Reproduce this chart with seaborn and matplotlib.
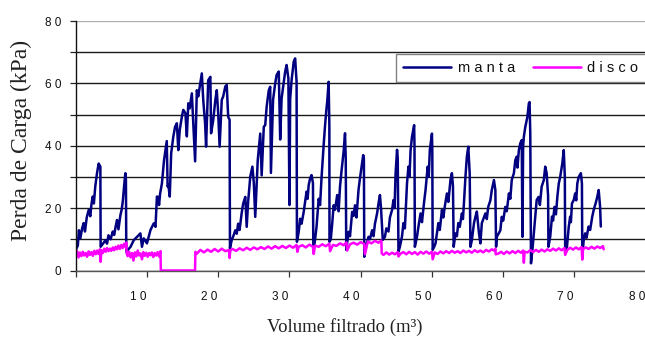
import matplotlib
matplotlib.use("Agg")
import matplotlib.pyplot as plt
import matplotlib.transforms as mtransforms
import numpy as np
import pandas as pd
import seaborn as sns

# ---------------- data ----------------
manta_x = [
    0.0, 0.3, 0.45, 0.65, 0.9, 1.12, 1.3, 1.55, 1.82, 2.05, 2.2, 2.38, 2.55, 2.75, 2.99, 3.22, 3.46, 3.5,
    3.8, 4.16, 4.4, 4.6, 4.9, 5.2, 5.4, 5.6, 5.8, 6.0, 6.27, 6.45, 6.6, 6.74, 6.85, 6.97, 7.05, 7.1,
    7.4, 7.7, 8.14, 8.6, 9.08, 9.3, 9.55, 9.8, 10.0, 10.5, 10.95, 11.2, 11.4, 11.56, 11.7, 11.85, 12.1, 12.4,
    12.6, 12.78, 12.9, 13.0, 13.2, 13.4, 13.7, 13.95, 14.2, 14.4, 14.6, 14.9, 15.1, 15.4, 15.6, 15.8, 16.0,
    16.3, 16.76, 17.0, 17.2, 17.7, 17.9, 18.16, 18.3, 18.6, 18.9, 19.0, 19.3, 19.6, 19.8, 20.0, 20.2, 20.5,
    20.7, 21.0, 21.2, 21.4, 21.6, 21.65,
    21.9, 22.2, 22.4, 22.6, 22.8, 23.0, 23.3, 23.5, 23.8, 24.0, 24.2, 24.5, 24.8, 25.0, 25.2, 25.55, 25.9,
    26.1, 26.4, 26.6, 26.8, 27.1, 27.3, 27.4, 27.7, 28.0, 28.2, 28.5, 28.7, 28.9, 29.2, 29.4, 29.6, 29.85,
    30.0, 30.1, 30.3, 30.6, 30.8, 31.0, 31.05,
    31.3, 31.5, 31.7, 32.0, 32.2, 32.4, 32.55, 32.7, 32.9, 33.1, 33.3, 33.35,
    33.6, 33.8, 34.1, 34.3, 34.5, 34.8, 35.0, 35.2, 35.3, 35.5, 35.6, 35.62,
    35.8, 36.0, 36.2, 36.4, 36.7, 36.9, 37.1, 37.3, 37.6, 37.8, 37.9, 37.97,
    38.3, 38.5, 38.8, 39.0, 39.2, 39.4, 39.7, 39.9, 40.2, 40.35, 40.45, 40.5,
    40.6, 40.9, 41.1, 41.3, 41.6, 41.8, 42.0, 42.3, 42.5, 42.7, 42.85, 43.1,
    43.4, 43.6, 43.9, 44.1, 44.4, 44.6, 44.75, 44.9, 45.1, 45.2, 45.3,
    45.5, 45.8, 46.0, 46.2, 46.5, 46.7, 46.85, 47.0, 47.2, 47.5, 47.55, 47.6,
    47.9, 48.1, 48.4, 48.6, 48.9, 49.1, 49.4, 49.55, 49.7, 49.9, 50.0, 50.05, 50.1,
    50.3, 50.5, 50.9, 51.1, 51.4, 51.6, 51.8, 52.1, 52.3, 52.6, 52.8, 52.95, 53.05,
    53.3, 53.5, 53.7, 53.9, 54.2, 54.35, 54.5, 54.7, 54.9, 55.1, 55.3, 55.4,
    55.6, 55.9, 56.1, 56.3, 56.6, 56.8, 57.0, 57.3, 57.5, 57.7, 57.9, 58.2, 58.4, 58.7, 58.9, 59.0,
    59.1, 59.4, 59.6, 59.8, 60.0, 60.3, 60.5, 60.8, 61.0, 61.2, 61.5, 61.7, 61.9, 62.0, 62.2, 62.4, 62.6,
    62.7, 62.8, 62.9, 63.1, 63.4, 63.6, 63.7, 63.8, 63.9,
    64.1, 64.3, 64.5, 64.7, 64.97, 65.15, 65.4, 65.7, 65.9, 66.1, 66.3, 66.35,
    66.6, 66.85, 67.0, 67.2, 67.4, 67.6, 67.8, 68.0, 68.3, 68.5, 68.65, 68.7,
    68.95, 69.2, 69.4, 69.5, 69.65, 69.9, 70.1, 70.25, 70.4, 70.6, 70.9, 71.05, 71.1,
    71.3, 71.5, 71.7, 71.98, 72.2, 72.5, 72.7, 72.97, 73.2, 73.4, 73.6, 73.7,
]
manta_y = [
    6.5, 8.0, 12.9, 10.3, 13.5, 15.2, 12.5, 17.0, 19.4, 17.4, 21.0, 23.7, 21.5, 27.0, 31.2, 34.3, 33.3, 7.6,
    8.5, 9.7, 8.6, 11.3, 10.0, 12.5, 11.4, 14.0, 16.2, 13.2, 17.7, 19.5, 22.0, 25.8, 28.5, 31.2, 29.0, 6.0,
    6.8, 7.6, 9.7, 10.8, 11.9, 7.6, 10.3, 9.5, 8.7, 13.0, 15.1, 14.0, 23.7, 23.6, 21.0, 24.7, 27.9, 35.4,
    38.6, 41.5, 26.9, 27.5, 23.7, 37.6, 42.9, 46.1, 47.2, 38.6, 45.0, 49.3, 51.5, 50.4, 43.0, 53.6, 52.0,
    56.8, 35.0, 57.8, 55.8, 63.2, 54.7, 47.2, 39.7, 61.0, 62.1, 44.0, 48.2, 54.7, 57.8, 50.4, 39.7, 54.7,
    55.8, 59.0, 59.5, 49.3, 48.3, 7.1,
    9.8, 11.5, 12.9, 11.8, 15.0, 13.0, 18.5, 21.4, 23.6, 14.0, 22.0, 30.1, 33.3, 28.0, 17.2, 35.4, 43.9,
    30.5, 46.1, 46.6, 52.5, 57.8, 58.9, 31.3, 54.7, 60.0, 62.7, 63.8, 42.0, 55.2, 60.5, 63.8, 65.9, 61.6,
    21.0, 55.0, 61.0, 67.0, 68.0, 60.5, 9.2,
    12.4, 16.6, 15.0, 18.8, 22.0, 25.3, 23.0, 27.4, 29.5, 30.6, 28.0, 6.0,
    10.0, 14.0, 23.0, 21.0, 29.6, 40.2, 46.6, 52.0, 54.1, 60.5, 46.6, 9.2,
    10.0, 15.0, 20.9, 19.5, 24.2, 19.0, 27.0, 31.7, 38.1, 44.0, 36.0, 6.6,
    12.4, 11.0, 18.8, 17.5, 20.9, 17.0, 26.0, 29.6, 34.5, 37.0, 36.0, 4.4,
    6.5, 9.0, 10.8, 10.0, 12.9, 11.0, 15.0, 18.3, 21.5, 24.2, 20.0, 9.8,
    10.8, 13.5, 12.5, 17.0, 19.4, 22.6, 20.0, 31.2, 38.7, 36.0, 6.0,
    7.6, 11.0, 15.2, 13.5, 28.0, 33.3, 30.0, 38.6, 42.9, 46.6, 40.0, 7.6,
    10.8, 14.0, 18.3, 15.5, 22.0, 25.8, 33.3, 30.0, 38.6, 42.0, 43.9, 38.0, 6.6,
    7.5, 8.7, 15.2, 13.0, 19.4, 17.0, 20.5, 24.7, 22.0, 29.0, 31.2, 27.0, 7.6,
    11.9, 11.0, 15.2, 14.0, 18.3, 16.5, 22.0, 30.0, 36.5, 39.7, 31.0, 7.6,
    9.7, 15.2, 17.2, 18.9, 11.9, 8.7, 15.2, 17.0, 18.3, 16.5, 20.4, 22.5, 25.8, 29.0, 25.8, 7.6,
    10.8, 12.0, 12.9, 17.2, 16.0, 20.4, 19.0, 24.7, 23.0, 29.0, 31.2, 35.4, 36.5, 33.0, 38.6, 40.8, 41.8,
    10.8, 40.0, 42.9, 46.0, 49.3, 53.6, 54.0, 44.0, 2.3,
    6.6, 12.0, 17.2, 22.6, 23.6, 21.0, 26.9, 29.0, 33.3, 31.2, 24.0, 7.6,
    10.9, 17.3, 16.0, 20.4, 18.0, 23.6, 27.9, 30.0, 34.4, 38.6, 30.0, 5.5,
    7.6, 14.0, 17.3, 15.5, 21.5, 22.6, 24.7, 22.5, 27.9, 30.0, 31.2, 27.9, 4.4,
    9.8, 11.9, 10.5, 14.1, 13.0, 17.3, 19.4, 21.5, 23.6, 25.8, 20.4, 14.1,
]

disco_x = [
    0.0, 0.2, 0.4, 0.6, 0.8, 1.0, 1.2, 1.4, 1.6, 1.8, 2.0, 2.2, 2.4, 2.6, 2.8, 3.0, 3.2, 3.4, 3.5, 3.6,
    3.8, 4.0, 4.2, 4.4, 4.6, 4.8, 5.0, 5.2, 5.4, 5.6, 5.8, 6.0, 6.2, 6.4, 6.6, 6.8, 7.0, 7.1, 7.15,
    7.3, 7.5, 7.7, 7.9, 8.1, 8.3, 8.5, 8.7, 8.9, 9.1, 9.3, 9.5, 9.7, 9.9, 10.1, 10.3, 10.5, 10.7, 10.9,
    11.1, 11.3, 11.5, 11.7, 11.9, 11.95, 16.75, 16.8,
    17.0, 17.5, 18.0, 18.5, 19.0, 19.5, 20.0, 20.5, 21.0, 21.5, 21.6, 21.7, 22.0, 22.5, 23.0, 23.5, 24.0,
    24.5, 25.0, 25.5, 26.0, 26.5, 27.0, 27.5, 28.0, 28.5, 29.0, 29.5, 30.0, 30.5, 31.0, 31.1, 31.3, 31.8,
    32.3, 32.8, 33.3, 33.4, 33.6, 34.1, 34.6, 35.1, 35.6, 35.7, 36.1, 36.6, 37.1, 37.6, 38.0, 38.1, 38.5,
    39.0, 39.5, 40.0, 40.5, 40.6, 41.0, 41.5, 42.0, 42.5, 42.9, 42.95,
    43.2, 43.6, 44.0, 44.4, 44.8, 45.2, 45.3, 45.6, 46.0, 46.4, 46.8, 47.2, 47.6, 48.0, 48.4, 48.8, 49.2,
    49.6, 50.0, 50.1, 50.4, 50.8, 51.2, 51.6, 52.0, 52.4, 52.8, 53.2, 53.6, 54.0, 54.4, 54.8, 55.2, 55.6,
    56.0, 56.4, 56.8, 57.2, 57.6, 58.0, 58.4, 58.8, 58.9, 58.95,
    59.3, 59.7, 60.1, 60.5, 60.9, 61.3, 61.7, 62.1, 62.5, 62.8, 62.9, 63.0, 63.4, 63.8, 64.2, 64.6, 65.0,
    65.4, 65.8, 66.2, 66.6, 67.0, 67.4, 67.8, 68.2, 68.6, 68.7, 69.0, 69.4, 69.8, 70.2, 70.6, 71.0, 71.1,
    71.2, 71.6, 72.0, 72.4, 72.8, 73.2, 73.6, 74.0, 74.1,
]
disco_y = [
    5.0, 6.2, 4.2, 5.8, 4.6, 6.0, 4.8, 5.6, 4.4, 6.1, 5.0, 5.9, 4.7, 6.3, 5.2, 6.4, 5.3, 6.8, 2.8, 6.5,
    5.6, 7.0, 6.0, 7.2, 6.2, 7.0, 6.3, 7.4, 6.5, 7.6, 6.8, 8.0, 6.9, 8.2, 7.2, 8.6, 7.5, 9.0, 5.5,
    4.6, 6.0, 4.2, 5.6, 3.2, 5.8, 4.5, 6.4, 4.8, 5.5, 3.6, 5.9, 4.7, 5.7, 4.4, 5.6, 4.9, 5.8, 4.3,
    5.6, 4.8, 5.9, 4.5, 6.2, 0.0, 0.0, 6.0,
    5.4, 6.6, 5.8, 6.7, 6.0, 6.9, 6.1, 7.0, 6.2, 6.6, 4.0, 6.4, 6.9, 6.3, 7.1, 6.5, 7.3,
    6.6, 7.4, 6.8, 7.5, 6.9, 7.7, 7.0, 7.8, 7.1, 7.9, 7.2, 8.0, 7.3, 8.2, 6.0, 7.6, 8.1,
    7.4, 8.3, 7.6, 5.3, 8.0, 7.6, 8.4, 7.8, 8.6, 6.2, 8.2, 7.9, 8.7, 8.1, 9.0, 6.4, 8.4,
    8.9, 8.3, 9.1, 8.5, 5.2, 9.3, 8.7, 9.5, 8.9, 9.6, 5.5,
    5.0, 5.8, 5.1, 5.7, 5.2, 5.9, 4.5, 5.4, 5.9, 5.2, 6.0, 5.3, 5.9, 5.1, 6.0, 5.4, 6.1,
    5.4, 6.0, 3.6, 5.8, 5.3, 6.1, 5.5, 6.2, 5.6, 6.3, 5.7, 6.2, 5.6, 6.4, 5.8, 6.3, 5.7,
    6.5, 5.9, 6.4, 5.8, 6.6, 6.1, 6.8, 6.3, 7.0, 5.2,
    5.4, 6.0, 5.3, 6.1, 5.5, 6.2, 5.6, 6.3, 5.7, 6.4, 2.5, 6.0, 5.8, 6.5, 5.9, 6.6, 6.0,
    6.7, 6.1, 6.8, 6.3, 7.0, 6.4, 7.1, 6.5, 7.2, 5.0, 6.6, 7.3, 6.7, 7.4, 6.8, 7.5, 3.5,
    6.9, 7.4, 6.9, 7.6, 7.0, 7.7, 7.2, 7.8, 6.8,
]

series_names = ["manta", "disco"]
legend_labels = ["m a n t a", "d i s c o"]
x_ticks = [0, 10, 20, 30, 40, 50, 60, 70, 80]
x_tick_labels = ["", "1 0", "2 0", "3 0", "4 0", "5 0", "6 0", "7 0", "8 0"]
y_ticks = [0, 10, 20, 30, 40, 50, 60, 70, 80]
y_tick_labels = ["0", "", "2 0", "", "4 0", "", "6 0", "", "8 0"]
x_label = "Volume filtrado (m³)"
y_label = "Perda de Carga (kPa)"

df = pd.concat([
    pd.DataFrame({"vol": manta_x, "perda": manta_y, "serie": series_names[0]}),
    pd.DataFrame({"vol": disco_x, "perda": disco_y, "serie": series_names[1]}),
], ignore_index=True)

# ---------------- style ----------------
sns.set_style("white")
plt.rcParams["font.family"] = ["Liberation Sans", "DejaVu Sans"]

W, H = 645, 337
fig = plt.figure(figsize=(W / 100, H / 100), dpi=100)
ax_left, ax_right, ax_top, ax_bot = 75.7, 645.7, 21.0, 270.5
ax = fig.add_axes([ax_left / W, 1 - ax_bot / H, (ax_right - ax_left) / W, (ax_bot - ax_top) / H])

palette = {"manta": "#000080", "disco": "#FF00FF"}
sns.lineplot(data=df, x="vol", y="perda", hue="serie", palette=palette,
             sort=False, estimator=None, legend=False, linewidth=1.8, ax=ax)
ax.set_xlim(0, 80)
ax.set_ylim(0, 80)
for ln in ax.get_lines():
    ln.set_solid_joinstyle("round")

# ticks
ax.set_xticks(x_ticks)
ax.set_xticklabels(x_tick_labels, fontsize=8.5, color="#111111")
ax.set_yticks(y_ticks)
ax.set_yticklabels(y_tick_labels, fontsize=8.5, color="#111111")
ax.tick_params(axis="x", direction="out", length=4, width=0.9, color="#333333", pad=11, bottom=True)
ax.tick_params(axis="y", direction="out", length=4.5, width=0.9, color="#222222", pad=6, left=True)
offset = mtransforms.ScaledTranslation(-9 / 100, 0, fig.dpi_scale_trans)
for lab in ax.get_xticklabels():
    lab.set_transform(lab.get_transform() + offset)

# grid
ax.set_axisbelow(True)
ax.yaxis.grid(True, color="#1a1a1a", linewidth=1.0)
ax.xaxis.grid(False)
gl = ax.yaxis.get_gridlines()
gl[-1].set_color("#b0b0b0")

# spines
for s in ["top", "right"]:
    ax.spines[s].set_visible(False)
ax.spines["left"].set_color("#111111")
ax.spines["left"].set_linewidth(1.0)
ax.spines["bottom"].set_color("#555555")
ax.spines["bottom"].set_linewidth(1.0)

# axis labels
ax.set_xlabel(x_label, family=["Liberation Serif", "DejaVu Serif"], fontsize=13.5,
              color="#222222", va="center")
ax.xaxis.set_label_coords((345 - ax_left) / (ax_right - ax_left), (ax_bot - 327) / (ax_bot - ax_top))
ax.set_ylabel(y_label, family=["Liberation Serif", "DejaVu Serif"], fontsize=17,
              color="#222222", va="center")
ax.yaxis.set_label_coords((21 - ax_left) / (ax_right - ax_left), (ax_bot - 140) / (ax_bot - ax_top))

# legend
handles = ax.get_lines()[:2]
lx0 = (405 - ax_left) / (ax_right - ax_left)
ly0 = (ax_bot - 83) / (ax_bot - ax_top)
lh = 30 / (ax_bot - ax_top)
leg = ax.legend(handles, legend_labels, ncol=2, loc="center right",
                bbox_to_anchor=(lx0, ly0, 1.0 - lx0, lh), mode=None,
                frameon=True, fancybox=False, framealpha=1, edgecolor="#808080",
                fontsize=10.5, handlelength=3.3, handletextpad=0.45, columnspacing=1.2,
                borderpad=0.5, borderaxespad=0.0)
leg.get_frame().set_linewidth(1.0)
for t in leg.get_texts():
    t.set_color("#111111")

fig.savefig("out.png", dpi=100)
